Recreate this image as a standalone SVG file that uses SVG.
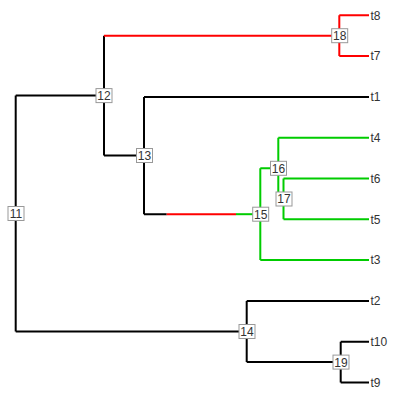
<svg xmlns="http://www.w3.org/2000/svg" width="400" height="399" viewBox="0 0 400 399">
<style>
.e{fill:none;stroke-width:2;stroke-linecap:butt}
.k{stroke:#000}
.r{stroke:#ff0000}
.g{stroke:#00cc00}
.n rect{fill:#fff;stroke:#999;stroke-width:1}
text{font-family:"Liberation Sans",Arial,sans-serif;font-size:12px;fill:#333}
.n text{text-anchor:middle}
</style>
<rect width="400" height="399" fill="#fff"/>
<g id="connectors">
<path class="e k" d="M15.7,95.6V331.5M15.7,95.6H104M15.7,331.5H246.7"/>
<path class="e k" d="M104,35.7V155.5M104,155.5H144"/>
<path class="e r" d="M104,35.7H339.3"/>
<path class="e r" d="M339.3,15.3V56.1M339.3,15.3H369M339.3,56.1H369"/>
<path class="e k" d="M144,96.9V214.2M144,96.9H369M144,214.2H166.7"/>
<path class="e r" d="M166.7,214.2H236"/>
<path class="e g" d="M236,214.2H260.3"/>
<path class="e g" d="M260.3,168.3V260.1M260.3,168.3H278.3M260.3,260.1H369"/>
<path class="e g" d="M278.3,137.7V198.9M278.3,137.7H369M278.3,198.9H283.5"/>
<path class="e g" d="M283.5,178.5V219.3M283.5,178.5H369M283.5,219.3H369"/>
<path class="e k" d="M246.7,300.9V362.1M246.7,300.9H369M246.7,362.1H340.7"/>
<path class="e k" d="M340.7,341.7V382.5M340.7,341.7H369M340.7,382.5H369"/>
</g>
<g id="n11" class="n"><rect x="8" y="206.5" width="16" height="14"/><text x="16" y="217.9">11</text></g>
<g id="n12" class="n"><rect x="96" y="88.6" width="16" height="14"/><text x="104" y="100">12</text></g>
<g id="n13" class="n"><rect x="136.5" y="148.5" width="16" height="14"/><text x="144.5" y="159.9">13</text></g>
<g id="n14" class="n"><rect x="239" y="324.5" width="16" height="14"/><text x="247" y="335.9">14</text></g>
<g id="n15" class="n"><rect x="252.7" y="207.2" width="16" height="14"/><text x="260.7" y="218.6">15</text></g>
<g id="n16" class="n"><rect x="270.5" y="161.3" width="16" height="14"/><text x="278.5" y="172.7">16</text></g>
<g id="n17" class="n"><rect x="276" y="192" width="16" height="14"/><text x="284" y="203.3">17</text></g>
<g id="n18" class="n"><rect x="331.7" y="28.7" width="16" height="14"/><text x="339.7" y="40.1">18</text></g>
<g id="n19" class="n"><rect x="333" y="355.1" width="16" height="14"/><text x="341" y="366.5">19</text></g>
<g id="t8"><text x="370.5" y="19.6">t8</text></g>
<g id="t7"><text x="370.5" y="60.4">t7</text></g>
<g id="t1"><text x="370.5" y="101.2">t1</text></g>
<g id="t4"><text x="370.5" y="142">t4</text></g>
<g id="t6"><text x="370.5" y="182.8">t6</text></g>
<g id="t5"><text x="370.5" y="223.6">t5</text></g>
<g id="t3"><text x="370.5" y="264.4">t3</text></g>
<g id="t2"><text x="370.5" y="305.2">t2</text></g>
<g id="t10"><text x="370.5" y="346">t10</text></g>
<g id="t9"><text x="370.5" y="386.8">t9</text></g>
</svg>
